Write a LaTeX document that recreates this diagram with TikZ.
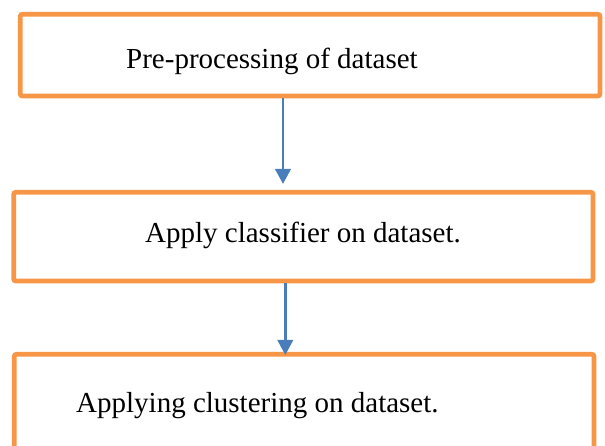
\documentclass[tikz,border=0pt]{standalone}
\usepackage{fontspec}
\setmainfont{Liberation Serif}
\usetikzlibrary{arrows.meta}
\definecolor{boxorange}{HTML}{F79646}
\definecolor{arrowblue}{HTML}{4A7EBB}
\tikzset{
  stepbox/.style={draw=boxorange, line width=4.7pt, rounded corners=2pt,
    inner sep=0pt, outer sep=2.35pt},
  steplabel/.style={inner sep=0pt, font=\fontsize{29pt}{34pt}\selectfont},
  flowarrow/.style={draw=arrowblue, line width=2.5pt,
    -{Triangle[length=15pt,width=15.5pt]}},
}
\begin{document}
\begin{tikzpicture}[x=1pt,y=-1pt]
  \useasboundingbox (0,0) rectangle (605,446);
  % the three process boxes
  \node[stepbox, minimum width=579.7pt, minimum height=81.7pt] (b1) at (310.15,55.15) {};
  \node[stepbox, minimum width=579.3pt, minimum height=88.7pt] (b2) at (303.35,236.65) {};
  % the last box runs past the lower edge, so its bottom side is left open
  \node[stepbox, draw=none, minimum width=579.7pt, minimum height=100pt] (b3) at (304.15,409) {};
  \draw[draw=boxorange, line width=4.7pt, rounded corners=2pt]
    ([xshift=2.35pt]b3.south west) |- ([yshift=2.35pt]b3.north)
    -| ([xshift=-2.35pt]b3.south east);
  % labels
  \node[steplabel, anchor=base west] (t1) at (126,68.3) {Pre-processing of dataset};
  \node[steplabel, anchor=base] (t2) at (303,242.5) {Apply classifier on dataset.};
  \node[steplabel, anchor=base west] (t3) at (76,412.7) {Applying clustering on dataset.};
  % arrow columns
  \coordinate (c1) at (283,0);
  \coordinate (c2) at (285.3,0);
  \draw[flowarrow, shorten >=6pt] (b1.south -| c1) -- (b2.north -| c1);
  \draw[flowarrow, shorten >=1.7pt] (b2.south -| c2) -- (b3.north -| c2);
\end{tikzpicture}
\end{document}
